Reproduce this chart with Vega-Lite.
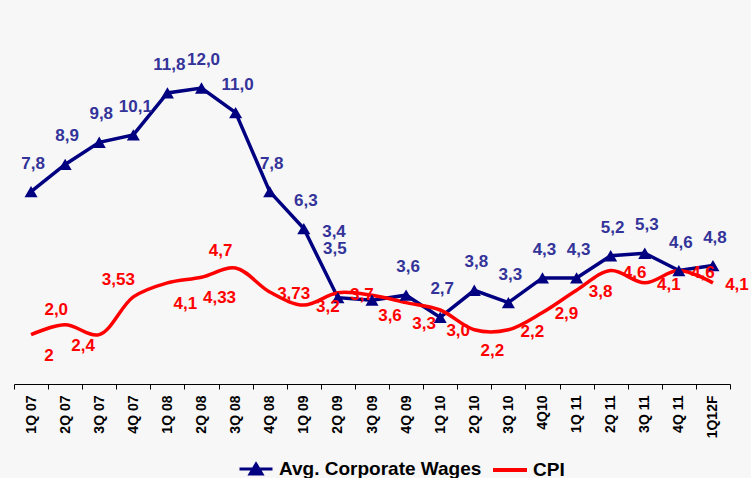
{
  "$schema": "https://vega.github.io/schema/vega-lite/v6.json",
  "width": 716,
  "height": 370,
  "autosize": {"type": "none"},
  "padding": {"left": 14, "top": 14, "right": 21, "bottom": 94},
  "background": "#f7f7f7",
  "config": {
    "view": {"stroke": null},
    "font": "Liberation Sans",
    "locale": {"number": {"decimal": ",", "thousands": ".", "grouping": [3], "currency": ["", ""]}},
    "axisX": {
      "title": null, "labelAngle": 270, "labelAlign": "right", "labelBaseline": "middle",
      "labelFont": "Liberation Sans", "labelFontWeight": "bold", "labelFontSize": 14, "labelColor": "#000000",
      "domainColor": "#000000", "domainWidth": 1, "tickColor": "#000000", "tickWidth": 1, "tickSize": 5,
      "tickBand": "extent", "labelPadding": 6, "grid": false
    }
  },
  "data": {"values": [
    {"q": "1Q 07", "w": 7.8, "cpi": 2.0, "ct": "2"},
    {"q": "2Q 07", "w": 8.9, "cpi": 2.4, "ct": "2,4"},
    {"q": "3Q 07", "w": 9.8, "cpi": 2.0, "ct": "2,0"},
    {"q": "4Q 07", "w": 10.1, "cpi": 3.53, "ct": "3,53"},
    {"q": "1Q 08", "w": 11.8, "cpi": 4.1, "ct": "4,1"},
    {"q": "2Q 08", "w": 12.0, "cpi": 4.33, "ct": "4,33"},
    {"q": "3Q 08", "w": 11.0, "cpi": 4.7, "ct": "4,7"},
    {"q": "4Q 08", "w": 7.8, "cpi": 3.73, "ct": "3,73"},
    {"q": "1Q 09", "w": 6.3, "cpi": 3.2, "ct": "3,2"},
    {"q": "2Q 09", "w": 3.5, "cpi": 3.7, "ct": "3,7"},
    {"q": "3Q 09", "w": 3.4, "cpi": 3.6, "ct": "3,6"},
    {"q": "4Q 09", "w": 3.6, "cpi": 3.3, "ct": "3,3"},
    {"q": "1Q 10", "w": 2.7, "cpi": 3.0, "ct": "3,0"},
    {"q": "2Q 10", "w": 3.8, "cpi": 2.2, "ct": "2,2"},
    {"q": "3Q 10", "w": 3.3, "cpi": 2.2, "ct": "2,2"},
    {"q": "4Q10", "w": 4.3, "cpi": 2.9, "ct": "2,9"},
    {"q": "1Q 11", "w": 4.3, "cpi": 3.8, "ct": "3,8"},
    {"q": "2Q 11", "w": 5.2, "cpi": 4.6, "ct": "4,6"},
    {"q": "3Q 11", "w": 5.3, "cpi": 4.1, "ct": "4,1"},
    {"q": "4Q 11", "w": 4.6, "cpi": 4.6, "ct": "4,6"},
    {"q": "1Q12F", "w": 4.8, "cpi": 4.1, "ct": "4,1"}
  ]},
  "encoding": {
    "x": {"field": "q", "type": "nominal", "sort": null, "bandPosition": 0.5,
          "scale": {"type": "band", "paddingInner": 0, "paddingOuter": 0}}
  },
  "layer": [
    {
      "mark": {"type": "line", "strokeWidth": 3.5},
      "encoding": {
        "y": {"field": "w", "type": "quantitative", "scale": {"domain": [0, 15], "nice": false, "zero": false}, "axis": null},
        "color": {"datum": "Avg. Corporate Wages", "scale": {"range": ["#000080"]},
          "legend": {"orient": "none", "legendX": 224, "legendY": 437, "title": null, "padding": 0, "labelLimit": 400,
            "symbolType": "M-1,0H1M0,-0.3L0.36,0.3L-0.36,0.3Z", "symbolSize": 1089, "symbolStrokeWidth": 3,
            "symbolFillColor": "#000080", "symbolStrokeColor": "#000080", "symbolOpacity": 1,
            "labelFont": "Liberation Sans", "labelFontSize": 19, "labelFontWeight": "bold", "labelColor": "#000000", "labelOffset": 5}}
      }
    },
    {
      "mark": {"type": "line", "strokeWidth": 3.5, "interpolate": "catmull-rom"},
      "encoding": {
        "y": {"field": "cpi", "type": "quantitative", "axis": null},
        "stroke": {"datum": "CPI", "scale": {"range": ["#ff0000"]},
          "legend": {"orient": "none", "legendX": 477, "legendY": 437, "title": null, "padding": 0, "labelLimit": 200,
            "symbolType": "stroke", "symbolSize": 1156, "symbolStrokeWidth": 4, "symbolStrokeColor": "#ff0000",
            "labelFont": "Liberation Sans", "labelFontSize": 19, "labelFontWeight": "bold", "labelColor": "#000000", "labelOffset": 4}}
      }
    },
    {
      "mark": {"type": "point", "shape": "triangle-up", "filled": true, "size": 170, "opacity": 1},
      "encoding": {
        "y": {"field": "w", "type": "quantitative", "axis": null},
        "color": {"datum": "Avg. Corporate Wages"}
      }
    },
    {
      "transform": [{"filter": "datum.q != '2Q 09' && datum.q != '3Q 09'"}],
      "mark": {"type": "text", "dy": -28, "dx": 2, "fontSize": 17, "fontWeight": "bold", "color": "#333399"},
      "encoding": {
        "y": {"field": "w", "type": "quantitative", "axis": null},
        "text": {"field": "w", "type": "quantitative", "format": ".1f"}
      }
    },
    {
      "transform": [{"filter": "datum.q == '2Q 09'"}],
      "mark": {"type": "text", "dy": -49, "dx": -3, "fontSize": 17, "fontWeight": "bold", "color": "#333399"},
      "encoding": {
        "y": {"field": "w", "type": "quantitative", "axis": null},
        "text": {"field": "w", "type": "quantitative", "format": ".1f"}
      }
    },
    {
      "transform": [{"filter": "datum.q == '3Q 09'"}],
      "mark": {"type": "text", "dy": -68, "dx": -38, "fontSize": 17, "fontWeight": "bold", "color": "#333399"},
      "encoding": {
        "y": {"field": "w", "type": "quantitative", "axis": null},
        "text": {"field": "w", "type": "quantitative", "format": ".1f"}
      }
    },
    {
      "transform": [{"filter": "datum.q == '3Q 07'"}],
      "mark": {"type": "text", "dy": -25, "dx": -43, "fontSize": 17, "fontWeight": "bold", "color": "#ff0000"},
      "encoding": {
        "y": {"field": "cpi", "type": "quantitative", "axis": null},
        "text": {"field": "ct", "type": "nominal"}
      }
    },
    {
      "transform": [{"filter": "indexof(['4Q 07','3Q 08'], datum.q) >= 0"}],
      "mark": {"type": "text", "dy": -17, "dx": -15, "fontSize": 17, "fontWeight": "bold", "color": "#ff0000"},
      "encoding": {
        "y": {"field": "cpi", "type": "quantitative", "axis": null},
        "text": {"field": "ct", "type": "nominal"}
      }
    },
    {
      "transform": [{"filter": "indexof(['1Q 07','2Q 07','1Q 08','2Q 08','3Q 09','4Q 09','1Q 10','2Q 10'], datum.q) >= 0"}],
      "mark": {"type": "text", "dy": 21, "dx": 18, "fontSize": 17, "fontWeight": "bold", "color": "#ff0000"},
      "encoding": {
        "y": {"field": "cpi", "type": "quantitative", "axis": null},
        "text": {"field": "ct", "type": "nominal"}
      }
    },
    {
      "transform": [{"filter": "indexof(['4Q 08','1Q 09','2Q 09','3Q 10','4Q10','1Q 11','2Q 11','3Q 11','4Q 11','1Q12F'], datum.q) >= 0"}],
      "mark": {"type": "text", "dy": 2, "dx": 24, "fontSize": 17, "fontWeight": "bold", "color": "#ff0000"},
      "encoding": {
        "y": {"field": "cpi", "type": "quantitative", "axis": null},
        "text": {"field": "ct", "type": "nominal"}
      }
    }
  ]
}
